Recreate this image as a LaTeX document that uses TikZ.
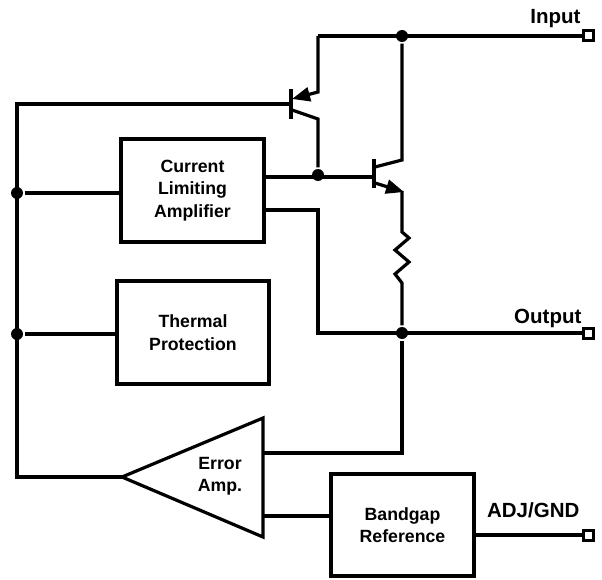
\documentclass[tikz,border=0pt]{standalone}
\usepackage{fontspec}
\setmainfont{Liberation Sans}
\usetikzlibrary{arrows.meta,positioning,calc}

\begin{document}
\begin{tikzpicture}[x=1pt,y=-1pt,line width=3.2pt,
    block/.style={draw,line width=3.2pt,align=center,inner sep=0pt,font=\bfseries\fontsize{17.7}{22.5}\selectfont},
    term/.style={draw,fill=white,minimum size=10pt,inner sep=0pt,line width=3pt},
    dot/.style={circle,fill,inner sep=0pt,minimum size=12pt},
    pinlabel/.style={inner sep=0pt,font=\bfseries\fontsize{20.5}{24}\selectfont},
    etip/.style={-{Triangle[length=18pt 0 0,width=14pt 0 0]}}]
    \useasboundingbox (0,0) rectangle (602,580);
    % blocks
    \node[block,minimum width=143pt,minimum height=103pt] (cla) at (192.5,190.5) {Current\\Limiting\\Amplifier};
    \node[block,minimum width=152pt,minimum height=103pt] (therm) at (193,332.5) {Thermal\\Protection};
    \node[block,minimum width=143pt,minimum height=102pt] (bgap) at (402.5,525) {Bandgap\\Reference};
    % error amplifier
    \coordinate (eatip) at (122,477);
    \coordinate (eatop) at (263,418);
    \coordinate (eabot) at (263,537);
    \draw (eatip) -- (eatop) -- (eabot) -- cycle;
    \node[align=center,inner sep=0pt,font=\bfseries\fontsize{17.7}{22.5}\selectfont] (ealbl) at (220,476) {Error\\Amp.};
    \coordinate (eainp) at (263,453);
    \coordinate (eainn) at (263,516);
    % terminals
    \node[term] (inp) at (588,36) {};
    \node[term] (outp) at (588,333) {};
    \node[term] (adj) at (588,535) {};
    \node[pinlabel,anchor=base east] (inplbl) at (582,24) {Input};
    \node[pinlabel,anchor=base east] (outlbl) at (583,323) {Output};
    \node[pinlabel,anchor=base east] (adjlbl) at (581,517) {ADJ/GND};
    % junctions
    \node[dot] (jin) at (402,36) {};
    \node[dot] (jbase) at (318,175) {};
    \node[dot] (jcla) at (17,193) {};
    \node[dot] (jtherm) at (17,334) {};
    \node[dot] (jout) at (402,333) {};
    % transistors
    \coordinate (qpbase) at (291,104);
    \coordinate (qnbase) at (374,177);
    \draw[line width=3.6pt] (291,89) -- (291,119);
    \draw[line width=3.6pt] (374,159) -- (374,188);
    \draw[etip] (318,36) -- (318,92) -- (292,99);
    \draw (292,110) -- (318,119) -- (jbase);
    \draw (jin) -- (402,160) -- (375,167);
    \draw[etip] (375,183) -- (404,192);
    % sense resistor
    \draw (402,191) -- (402,232) -- (409,238) -- (395,250) -- (409,262) -- (395,274) -- (402,283) -- (jout);
    % connectors
    \draw (318,36) -- (inp.west);
    \draw (qpbase) -- (17,104) -- (17,477) -- (eatip);
    \draw (jcla) -- (cla.west |- jcla);
    \draw (jtherm) -- (therm.west |- jtherm);
    \draw (cla.east |- qnbase) -- (qnbase);
    \coordinate (clalim) at (318,210);
    \draw (cla.east |- clalim) -- (clalim) -- (318,333) -- (outp.west);
    \draw (jout) -- (402,453) -- (eainp);
    \draw (eainn) -- (bgap.west |- eainn);
    \draw (bgap.east |- adj) -- (adj.west);
\end{tikzpicture}
\end{document}
